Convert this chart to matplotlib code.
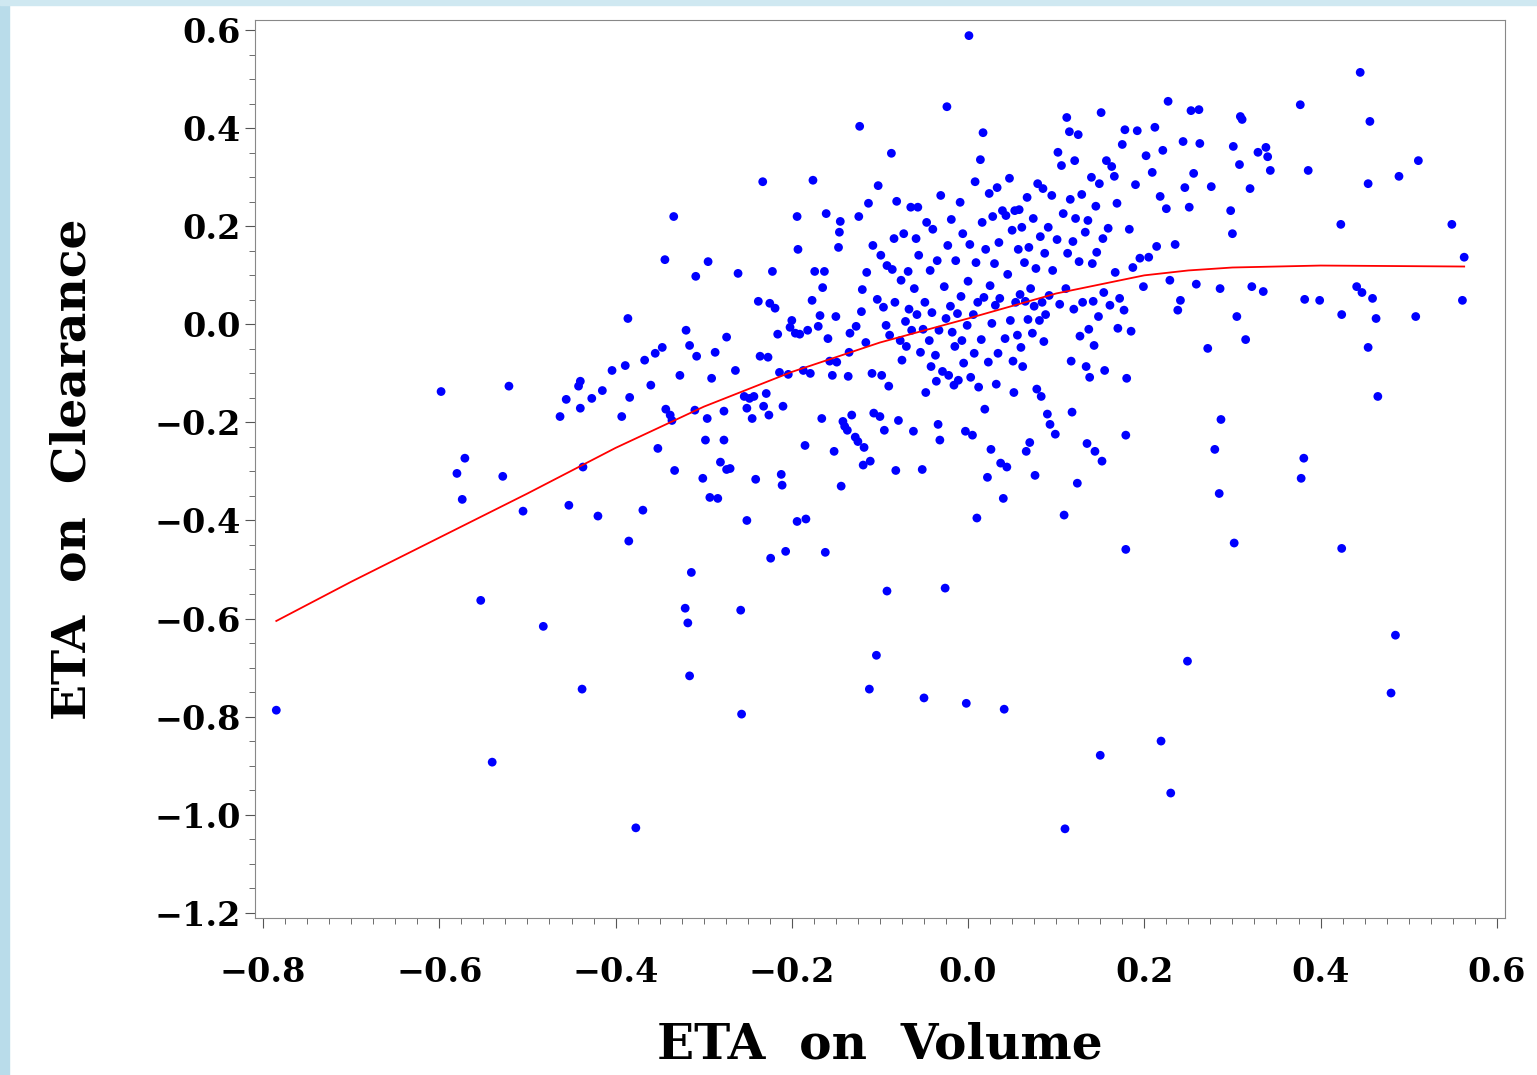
import matplotlib
matplotlib.use("Agg")
import matplotlib.pyplot as plt
from matplotlib.ticker import MultipleLocator
import numpy as np

# ETA on Volume / ETA on Clearance
eta_v = [-0.785,-0.598,-0.580,-0.571,-0.574,-0.553,-0.540,-0.528,-0.521,-0.505,-0.482,-0.463,-0.456,-0.453,-0.442,-0.440,-0.438,-0.437,-0.440,-0.427,
 -0.420,-0.415,-0.404,-0.393,-0.389,-0.386,-0.385,-0.377,-0.384,-0.369,-0.367,-0.360,-0.355,-0.352,-0.347,-0.344,-0.343,-0.338,-0.336,-0.334,
 -0.333,-0.327,-0.321,-0.320,-0.318,-0.316,-0.314,-0.316,-0.310,-0.309,-0.308,-0.301,-0.298,-0.296,-0.295,-0.293,-0.291,-0.287,-0.284,-0.281,
 -0.277,-0.277,-0.274,-0.274,-0.270,-0.264,-0.261,-0.258,-0.257,-0.254,-0.251,-0.251,-0.248,-0.245,-0.243,-0.241,-0.238,-0.236,-0.233,-0.232,
 -0.229,-0.227,-0.226,-0.225,-0.224,-0.222,-0.219,-0.216,-0.214,-0.212,-0.211,-0.210,-0.207,-0.204,-0.202,-0.200,-0.196,-0.194,-0.194,-0.193,
 -0.191,-0.187,-0.185,-0.184,-0.182,-0.179,-0.177,-0.176,-0.174,-0.170,-0.168,-0.166,-0.165,-0.163,-0.162,-0.161,-0.159,-0.157,-0.154,-0.152,
 -0.150,-0.149,-0.147,-0.146,-0.145,-0.144,-0.142,-0.140,-0.137,-0.136,-0.135,-0.134,-0.132,-0.128,-0.127,-0.125,-0.124,-0.123,-0.121,-0.120,
 -0.119,-0.118,-0.116,-0.115,-0.113,-0.112,-0.111,-0.109,-0.108,-0.107,-0.104,-0.103,-0.102,-0.100,-0.099,-0.098,-0.096,-0.095,-0.093,-0.092,
 -0.092,-0.090,-0.089,-0.087,-0.086,-0.084,-0.083,-0.082,-0.081,-0.079,-0.077,-0.076,-0.075,-0.073,-0.071,-0.070,-0.068,-0.067,-0.065,-0.064,
 -0.062,-0.061,-0.059,-0.058,-0.057,-0.056,-0.054,-0.052,-0.051,-0.050,-0.049,-0.048,-0.047,-0.044,-0.043,-0.042,-0.041,-0.040,-0.037,-0.036,
 -0.035,-0.034,-0.033,-0.032,-0.031,-0.029,-0.027,-0.026,-0.025,-0.024,-0.023,-0.022,-0.020,-0.019,-0.018,-0.016,-0.015,-0.014,-0.012,-0.011,
 -0.009,-0.008,-0.007,-0.006,-0.005,-0.003,-0.002,-0.001,0.000,0.001,0.002,0.003,0.005,0.006,0.007,0.008,0.009,0.010,0.011,0.012,
 0.014,0.015,0.016,0.017,0.018,0.019,0.020,0.022,0.023,0.024,0.025,0.026,0.027,0.028,0.030,0.031,0.032,0.033,0.034,0.035,
 0.036,0.037,0.039,0.040,0.041,0.042,0.043,0.044,0.045,0.047,0.048,0.050,0.051,0.052,0.053,0.054,0.056,0.057,0.058,0.059,
 0.060,0.061,0.062,0.064,0.065,0.066,0.067,0.068,0.069,0.070,0.071,0.073,0.074,0.075,0.076,0.077,0.078,0.079,0.081,0.082,
 0.083,0.084,0.085,0.086,0.087,0.088,0.090,0.091,0.092,0.093,0.095,0.096,0.099,0.101,0.102,0.104,0.106,0.108,0.109,0.110,
 0.111,0.112,0.113,0.115,0.116,0.117,0.118,0.119,0.120,0.121,0.122,0.124,0.125,0.126,0.127,0.129,0.130,0.133,0.134,0.135,
 0.136,0.137,0.138,0.140,0.141,0.142,0.143,0.144,0.145,0.146,0.148,0.149,0.150,0.151,0.152,0.153,0.154,0.155,0.157,0.159,
 0.161,0.163,0.166,0.167,0.169,0.170,0.172,0.175,0.177,0.178,0.179,0.180,0.179,0.183,0.185,0.187,0.190,0.192,0.195,0.199,
 0.202,0.205,0.209,0.212,0.214,0.218,0.219,0.221,0.225,0.227,0.229,0.230,0.235,0.238,0.241,0.244,0.246,0.249,0.251,0.253,
 0.256,0.259,0.262,0.263,0.272,0.276,0.280,0.285,0.286,0.287,0.298,0.300,0.301,0.302,0.305,0.308,0.309,0.311,0.315,0.320,
 0.322,0.329,0.335,0.338,0.340,0.343,0.377,0.378,0.381,0.382,0.386,0.399,0.423,0.424,0.424,0.441,0.445,0.447,0.454,0.454,
 0.456,0.459,0.463,0.465,0.480,0.485,0.489,0.508,0.511,0.549,0.561,0.563]
eta_cl = [-0.787,-0.137,-0.304,-0.273,-0.357,-0.563,-0.893,-0.310,-0.126,-0.381,-0.616,-0.188,-0.153,-0.369,-0.126,-0.116,-0.744,-0.291,-0.171,-0.151,
 -0.391,-0.135,-0.094,-0.188,-0.084,0.012,-0.442,-1.027,-0.149,-0.379,-0.073,-0.124,-0.059,-0.253,-0.047,0.132,-0.173,-0.185,-0.196,0.220,
 -0.298,-0.104,-0.579,-0.012,-0.609,-0.043,-0.506,-0.717,-0.175,0.098,-0.065,-0.314,-0.236,-0.192,0.128,-0.353,-0.110,-0.057,-0.355,-0.281,
 -0.236,-0.177,-0.296,-0.026,-0.294,-0.094,0.104,-0.583,-0.795,-0.147,-0.400,-0.171,-0.151,-0.192,-0.147,-0.316,0.047,-0.065,0.291,-0.167,
 -0.141,-0.067,-0.185,0.043,-0.477,0.108,0.033,-0.020,-0.098,-0.306,-0.328,-0.167,-0.463,-0.102,-0.006,0.008,-0.018,0.220,-0.402,0.153,
 -0.020,-0.094,-0.247,-0.397,-0.012,-0.100,0.049,0.294,0.108,-0.004,0.018,-0.192,0.075,0.108,-0.465,0.226,-0.029,-0.075,-0.104,-0.259,
 0.016,-0.077,0.157,0.188,0.210,-0.330,-0.198,-0.208,-0.216,-0.106,-0.057,-0.018,-0.185,-0.230,-0.004,-0.239,0.220,0.404,0.026,0.071,
 -0.287,-0.251,-0.037,0.106,0.247,-0.744,-0.279,-0.100,0.161,-0.181,-0.675,0.051,0.283,-0.188,0.141,-0.104,0.035,-0.216,-0.002,-0.544,
 0.120,-0.126,-0.022,0.349,0.112,0.175,0.045,-0.298,0.251,-0.196,-0.033,0.090,-0.073,0.185,0.006,-0.045,0.108,0.031,0.239,-0.012,
 -0.218,0.073,0.175,0.020,0.239,0.141,-0.057,-0.296,-0.010,-0.762,0.045,-0.139,0.208,-0.033,0.110,-0.086,0.024,0.194,-0.063,-0.116,
 0.130,-0.204,-0.012,-0.236,0.263,-0.096,0.077,-0.538,0.012,0.444,0.161,-0.104,0.037,0.214,-0.016,-0.124,-0.045,0.130,0.022,-0.114,
 0.249,0.057,-0.033,0.185,-0.079,-0.218,-0.773,-0.002,0.088,0.589,0.163,-0.108,-0.226,0.020,-0.059,0.291,0.126,-0.395,0.045,-0.128,
 0.336,-0.031,0.208,0.391,0.055,-0.173,0.153,-0.312,-0.077,0.267,0.079,-0.255,0.002,0.220,0.124,0.039,-0.122,0.279,-0.059,0.167,
 0.053,-0.283,0.232,-0.355,-0.785,-0.029,0.222,-0.291,0.102,0.298,0.008,0.192,-0.075,-0.139,0.232,0.045,-0.022,0.153,0.234,0.061,
 -0.047,0.198,-0.086,0.126,0.047,-0.259,0.259,0.010,0.157,-0.241,0.073,-0.018,0.216,0.037,-0.308,0.114,-0.132,0.287,0.008,0.179,
 -0.147,0.045,0.277,-0.035,0.145,0.020,-0.183,0.198,0.059,-0.204,0.263,0.110,-0.224,0.173,0.351,0.041,0.324,0.226,-0.389,-1.029,
 0.073,0.422,0.145,0.393,0.255,-0.075,-0.179,0.169,0.031,0.334,0.216,-0.324,0.387,0.128,-0.024,0.265,0.045,0.188,-0.086,-0.243,
 0.212,-0.010,-0.108,0.300,0.124,0.047,-0.043,-0.259,0.241,0.147,0.016,0.287,-0.879,0.432,-0.279,0.175,0.065,-0.094,0.334,0.196,
 0.039,0.322,0.302,0.106,0.247,-0.008,0.053,0.367,0.029,0.397,-0.226,-0.110,-0.459,0.194,-0.014,0.116,0.285,0.395,0.135,0.077,
 0.344,0.137,0.310,0.402,0.159,0.261,-0.850,0.355,0.236,0.455,0.090,-0.956,0.163,0.029,0.049,0.373,0.279,-0.687,0.239,0.436,
 0.308,0.082,0.438,0.369,-0.049,0.281,-0.255,-0.345,0.073,-0.194,0.232,0.185,0.363,-0.446,0.016,0.326,0.424,0.418,-0.031,0.277,
 0.077,0.351,0.067,0.361,0.342,0.314,0.448,-0.314,-0.273,0.051,0.314,0.049,0.204,0.020,-0.457,0.077,0.514,0.065,0.287,-0.047,
 0.414,0.053,0.012,-0.147,-0.752,-0.634,0.302,0.016,0.334,0.204,0.049,0.137]

# loess-like smooth line
smooth_x = [-0.785, -0.7, -0.6, -0.5, -0.4, -0.3, -0.2, -0.1, 0.0, 0.1, 0.2, 0.25, 0.3, 0.4, 0.563]
smooth_y = [-0.605, -0.525, -0.435, -0.345, -0.252, -0.168, -0.097, -0.037, 0.012, 0.063, 0.100, 0.110, 0.116, 0.120, 0.118]

plt.rcParams['font.family'] = 'DejaVu Serif'
plt.rcParams['font.weight'] = 'bold'

fig = plt.figure(figsize=(15.37, 10.75), dpi=100)
fig.patches.append(plt.Rectangle((0, 0), 0.006, 1, transform=fig.transFigure, color='#b9dcea', zorder=-1))
fig.patches.append(plt.Rectangle((0, 0.995), 1, 0.005, transform=fig.transFigure, color='#cfe8f1', zorder=-1))
ax = fig.add_axes([0.166, 0.146, 0.813, 0.835])

ax.scatter(eta_v, eta_cl, s=40, color='#0000ff', edgecolors='none', zorder=3)
ax.plot(smooth_x, smooth_y, color='#ff0000', lw=1.3, zorder=4)

ax.set_xlim(-0.809, 0.609)
ax.set_ylim(-1.211, 0.62)
ax.xaxis.set_major_locator(MultipleLocator(0.2))
ax.xaxis.set_minor_locator(MultipleLocator(0.025))
ax.yaxis.set_major_locator(MultipleLocator(0.2))
ax.yaxis.set_minor_locator(MultipleLocator(0.05))
ax.xaxis.set_major_formatter(plt.FuncFormatter(lambda v, p: f"{v:.1f}".replace('-', '\u2212')))
ax.yaxis.set_major_formatter(plt.FuncFormatter(lambda v, p: f"{v:.1f}".replace('-', '\u2212')))
ax.tick_params(labelsize=24, length=7, color='#555555')
ax.tick_params(axis='x', pad=20)
ax.tick_params(which='minor', length=4, color='#555555')
for s in ax.spines.values():
    s.set_color('#888888')

ax.set_xlabel('ETA  on  Volume', fontsize=35, fontweight='bold', labelpad=24)
ax.set_ylabel('ETA  on  Clearance', fontsize=34, fontweight='bold', labelpad=42)

fig.savefig('out.png', dpi=100)
